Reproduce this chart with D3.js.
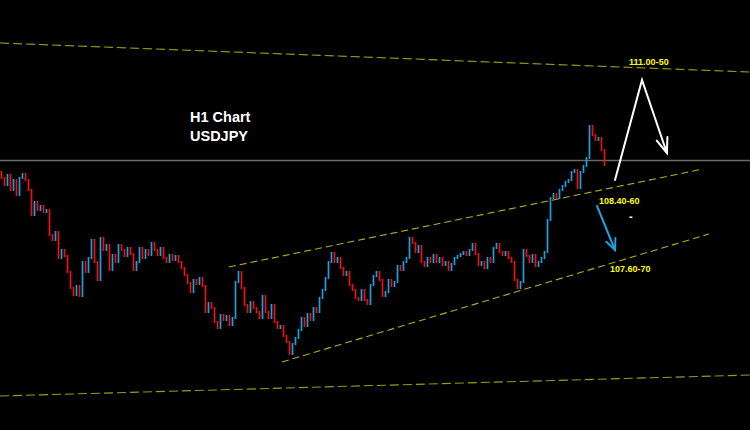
<!DOCTYPE html>
<html><head><meta charset="utf-8">
<script src="https://cdn.jsdelivr.net/npm/d3@7"></script>
<style>html,body{margin:0;padding:0;background:#000;}svg{display:block;}</style>
</head><body>
<svg id="c" width="750" height="430"></svg>
<script>
// ---- data ----
const firstOpen = 109.88;
const closes = [
109.82,109.75,109.85,109.70,109.80,109.65,109.82,109.86,109.80,109.70,
109.45,109.58,109.50,109.54,109.48,109.50,109.25,109.20,109.28,109.02,
109.10,109.04,108.88,108.72,108.65,108.74,108.64,108.98,108.88,109.02,
109.20,108.98,108.80,109.22,109.10,109.15,108.90,109.05,108.98,109.15,
109.10,109.04,109.12,109.06,108.90,108.98,109.12,109.02,109.10,109.05,
109.17,109.10,109.05,109.12,109.02,108.98,109.05,109.00,109.04,108.98,
108.92,108.85,108.77,108.68,108.80,108.76,108.82,108.74,108.48,108.57,
108.52,108.38,108.32,108.45,108.40,108.44,108.35,108.42,108.78,108.88,
108.72,108.55,108.48,108.58,108.52,108.48,108.42,108.64,108.48,108.42,
108.55,108.38,108.32,108.34,108.24,108.18,108.06,108.16,108.22,108.30,
108.42,108.34,108.46,108.40,108.52,108.48,108.62,108.70,108.82,108.98,
109.07,108.98,109.02,108.92,108.85,108.88,108.75,108.70,108.62,108.60,
108.70,108.60,108.56,108.75,108.84,108.88,108.80,108.64,108.68,108.80,
108.74,108.78,108.94,108.90,108.98,109.02,109.22,109.17,109.08,109.14,
108.98,108.94,109.02,108.98,109.05,108.98,109.02,108.95,108.98,108.90,
108.96,109.02,109.04,109.06,109.08,109.05,109.10,109.16,109.06,108.95,
108.98,108.92,109.02,108.98,109.12,109.16,109.08,109.05,109.08,109.02,
108.98,108.80,108.72,108.78,109.10,109.04,108.98,109.05,108.94,108.98,
109.02,109.08,109.40,109.62,109.66,109.62,109.70,109.74,109.78,109.80,
109.88,109.90,109.72,109.88,109.94,110.02,110.34,110.25,110.20,110.22,
110.10,109.95
];
// trend lines: [index, price] endpoints
const outerTop    = [[-0.5, 111.17], [249.5, 110.88]];
const outerBottom = [[-0.5, 107.64], [249.5, 107.85]];
const channelTop  = [[75.8, 108.93], [233.8, 109.91]];
const channelLow  = [[93.5, 107.98], [235.8, 109.26]];
const refLevel = 110.00;
const whiteArrow = [[204.5, 109.80], [213.5, 110.80], [221.8, 110.07]];
const blueArrow  = [[198.5, 109.54], [204.5, 109.10]];
const dotPoint = [209.8, 109.43];
const levelLabels = [
  {text: "111.00-50", i: 209.2, p: 110.95},
  {text: "108.40-60", i: 199.2, p: 109.56},
  {text: "107.60-70", i: 202.8, p: 108.88}
];
const titleLines = ["H1 Chart", "USDJPY"];

// ---- scales ----
const W = 750, H = 430;
const svg = d3.select("#c");
const x = d3.scaleLinear().domain([0, 250]).range([1.5, 751.5]);
const y = d3.scaleLinear().domain([107.30, 111.60]).range([430, 0]);

svg.append("rect").attr("width", W).attr("height", H).attr("fill", "#000");

// reference horizontal line
svg.append("line").attr("x1", 0).attr("x2", W)
  .attr("y1", y(refLevel) + 0.5).attr("y2", y(refLevel) + 0.5)
  .attr("stroke", "#6a6a6a").attr("stroke-width", 1.5);

// dashed lines
const dashed = [
  {pts: outerTop, c: "#9c9c10", dash: "9,4"},
  {pts: outerBottom, c: "#9c9c10", dash: "9,4"},
  {pts: channelTop, c: "#b0b010", dash: "7,4"},
  {pts: channelLow, c: "#b0b010", dash: "7,4"}
];
dashed.forEach(d => {
  svg.append("line")
    .attr("x1", x(d.pts[0][0])).attr("y1", y(d.pts[0][1]))
    .attr("x2", x(d.pts[1][0])).attr("y2", y(d.pts[1][1]))
    .attr("stroke", d.c).attr("stroke-width", 1.1)
    .attr("stroke-dasharray", d.dash);
});

// candles
const candles = closes.map((c, i) => ({i, o: i === 0 ? firstOpen : closes[i - 1], c}));
const bw = 1.7;
svg.append("g").selectAll("rect").data(candles).join("rect")
  .attr("x", d => x(d.i) - bw / 2)
  .attr("width", bw)
  .attr("y", d => y(Math.max(d.o, d.c)) - 1)
  .attr("height", d => Math.abs(y(d.o) - y(d.c)) + 2)
  .attr("fill", d => d.c >= d.o ? "#1d9fdc" : "#f01010");

// arrows
function arrow(pts, color, width, headLen, headAng) {
  const line = d3.line().x(d => x(d[0])).y(d => y(d[1]));
  svg.append("path").attr("d", line(pts)).attr("fill", "none")
    .attr("stroke", color).attr("stroke-width", width)
    .attr("stroke-linejoin", "miter").attr("stroke-linecap", "round");
  const a = pts[pts.length - 2], b = pts[pts.length - 1];
  const tx = x(b[0]), ty = y(b[1]);
  const ang = Math.atan2(ty - y(a[1]), tx - x(a[0]));
  const w1 = [tx - headLen * Math.cos(ang - headAng), ty - headLen * Math.sin(ang - headAng)];
  const w2 = [tx - headLen * Math.cos(ang + headAng), ty - headLen * Math.sin(ang + headAng)];
  svg.append("path").attr("d", `M${w1[0]},${w1[1]}L${tx},${ty}L${w2[0]},${w2[1]}`)
    .attr("fill", "none").attr("stroke", color).attr("stroke-width", width)
    .attr("stroke-linecap", "round");
}
arrow(whiteArrow, "#ffffff", 2, 16, 0.36);
arrow(blueArrow, "#1e9fe0", 2, 12, 0.42);

svg.append("rect").attr("x", x(dotPoint[0]) - 1.5).attr("y", y(dotPoint[1]) - 0.5)
  .attr("width", 3).attr("height", 1.5).attr("fill", "#fff");

// level labels
svg.append("g").selectAll("text").data(levelLabels).join("text")
  .attr("x", d => x(d.i)).attr("y", d => y(d.p))
  .attr("fill", "#ffff00")
  .attr("font-family", "Liberation Sans, Arial, sans-serif")
  .attr("font-weight", "bold").attr("font-size", 9)
  .text(d => d.text);

// title
svg.append("g").selectAll("text").data(titleLines).join("text")
  .attr("x", 190).attr("y", (d, k) => 121.5 + k * 19.5)
  .attr("fill", "#ffffff")
  .attr("font-family", "Liberation Sans, Arial, sans-serif")
  .attr("font-weight", "bold").attr("font-size", 14.5)
  .text(d => d);
</script>
</body></html>
